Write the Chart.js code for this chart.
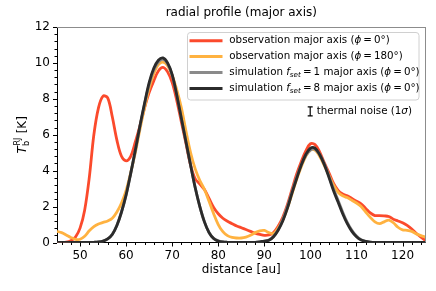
<!DOCTYPE html>
<html>
<head>
<meta charset="utf-8">
<script src="https://cdn.jsdelivr.net/npm/chart.js@4.4.1/dist/chart.umd.min.js"></script>
<style>
  body { margin: 0; background: #fff; }
  #marco { width: 436px; height: 291px; }
</style>
</head>
<body>
<div id="marco"><canvas id="perfil"></canvas></div>
<script>
// distancia en au (eje x)
const distancia = [45,46,47,48,49,50,51,52,53,54,55,56,57,58,59,60,61,62,63,64,65,66,67,68,69,70,
  71,72,73,74,75,76,77,78,79,80,81,82,83,84,85,86,87,88,89,90,91,92,93,94,95,96,97,98,99,100,
  101,102,103,104,105,106,107,108,109,110,111,112,113,114,115,116,117,118,119,120,121,122,123,124,125];

// observación, eje mayor, phi = 0
const obsPhi0 = [0,0,0.02,0.1,0.3,0.8,1.8,3.6,6.0,7.5,8.15,8.05,7.0,5.7,4.8,4.55,4.8,5.6,6.5,7.5,8.35,
  9.0,9.55,9.75,9.5,8.9,7.9,6.7,5.5,4.3,3.55,3.25,2.95,2.45,1.95,1.6,1.35,1.18,1.05,0.92,0.82,0.72,
  0.62,0.52,0.45,0.4,0.42,0.55,0.9,1.4,2.1,2.95,3.8,4.5,5.1,5.5,5.45,5.05,4.45,3.9,3.3,2.9,2.7,2.6,
  2.45,2.3,2.15,1.9,1.65,1.5,1.5,1.48,1.45,1.3,1.2,1.1,0.95,0.75,0.5,0.3,0.1];

// observación, eje mayor, phi = 180
const obsPhi180 = [0.62,0.55,0.42,0.28,0.18,0.18,0.35,0.65,0.88,1.03,1.12,1.2,1.35,1.7,2.2,2.9,3.9,5.0,
  6.3,7.5,8.6,9.4,9.9,10.05,9.85,9.3,8.5,7.5,6.2,5.0,4.1,3.45,2.95,2.3,1.6,1.0,0.6,0.38,0.28,0.25,
  0.25,0.3,0.4,0.55,0.65,0.67,0.55,0.5,0.8,1.25,1.9,2.7,3.5,4.2,4.8,5.15,5.15,4.8,4.3,3.75,3.2,2.8,
  2.6,2.5,2.35,2.2,2.0,1.7,1.4,1.15,1.05,1.15,1.25,1.1,0.85,0.7,0.68,0.62,0.48,0.38,0.3];

// simulación f_set = 1
const simF1 = [0,0,0,0,0,0,0,0,0.01,0.03,0.08,0.2,0.46,0.96,1.7,2.65,3.85,5.1,6.45,7.7,8.8,9.6,10.05,
  10.2,9.95,9.3,8.2,6.9,5.6,4.3,3.05,2.0,1.15,0.56,0.23,0.09,0.03,0.01,0,0,0,0,0,0,0.03,0.08,0.14,
  0.35,0.72,1.28,2.0,2.82,3.62,4.32,4.85,5.15,5.2,4.9,4.4,3.72,3.0,2.35,1.7,1.12,0.68,0.36,0.16,
  0.07,0.02,0,0,0,0,0,0,0,0,0,0,0,0];

// simulación f_set = 8
const simF8 = [0,0,0,0,0,0,0,0,0.01,0.03,0.08,0.2,0.45,0.95,1.7,2.65,3.85,5.15,6.5,7.75,8.9,9.7,10.15,
  10.28,10.0,9.35,8.2,6.9,5.6,4.3,3.05,2.0,1.15,0.55,0.22,0.08,0.03,0.01,0,0,0,0,0,0,0.03,0.08,0.12,
  0.32,0.68,1.2,1.9,2.75,3.55,4.3,4.9,5.25,5.25,4.9,4.35,3.65,2.9,2.25,1.6,1.05,0.62,0.32,0.14,
  0.06,0.02,0,0,0,0,0,0,0,0,0,0,0,0];

const xTicks = [50,60,70,80,90,100,110,120];
const yTicks = [0,2,4,6,8,10,12];

const FUENTE = "'DejaVu Sans', sans-serif";
const colores = { rojo: "#fb4a2c", naranja: "#ffb240", gris: "#8a8a8a", negro: "#2b2b2b" };

function puntos(vals) {
  return vals.map((v, i) => ({ x: distancia[i], y: v }));
}

// dibuja trozos de texto seguidos (normal, cursiva, subíndice)
function trozos(ctx, x, y, partes) {
  for (const p of partes) {
    ctx.font = (p.italic ? "italic " : "") + p.size + "px " + FUENTE;
    ctx.fillText(p.t, x, y + (p.dy || 0));
    x += ctx.measureText(p.t).width;
  }
  return x;
}

const extras = {
  id: "extras",
  afterDatasetsDraw(chart) {
    const { ctx, chartArea: a, scales: { x, y } } = chart;
    ctx.save();
    // bordes superior y derecho en gris
    ctx.strokeStyle = "#8c8c8c";
    ctx.lineWidth = 1;
    ctx.beginPath();
    ctx.moveTo(a.left, Math.round(a.top) + 0.5);
    ctx.lineTo(a.right, Math.round(a.top) + 0.5);
    ctx.moveTo(Math.round(a.right) - 0.5, a.top);
    ctx.lineTo(Math.round(a.right) - 0.5, a.bottom);
    ctx.stroke();

    // marcas de los ejes (mayores y menores)
    ctx.strokeStyle = "#000";
    ctx.beginPath();
    for (let v = 46; v <= 124; v += 2) {
      const px = Math.round(x.getPixelForValue(v)) + 0.5;
      const largo = xTicks.includes(v) ? 4 : 2.5;
      ctx.moveTo(px, a.bottom);
      ctx.lineTo(px, a.bottom + largo);
    }
    for (let k = 0; k <= 30; k++) {
      const py = Math.round(y.getPixelForValue(k * 0.4)) + 0.5;
      const largo = k % 5 === 0 ? 4 : 2.5;
      ctx.moveTo(a.left, py);
      ctx.lineTo(a.left - largo, py);
    }
    ctx.stroke();
    ctx.restore();
  },
  afterDraw(chart) {
    const { ctx, chartArea: a } = chart;
    const cx = (a.left + a.right) / 2;
    ctx.save();
    ctx.fillStyle = "#000";
    ctx.textBaseline = "middle";

    // título
    ctx.textAlign = "center";
    ctx.font = "12px " + FUENTE;
    ctx.fillText("radial profile (major axis)", cx, 13);
    // título eje x
    ctx.fillText("distance [au]", cx, 270);

    // título eje y: T_b^RJ [K]
    ctx.save();
    ctx.translate(23, (a.top + a.bottom) / 2);
    ctx.rotate(-Math.PI / 2);
    ctx.textAlign = "left";
    ctx.font = "italic 12px " + FUENTE;
    const wT = ctx.measureText("T").width;
    ctx.font = "8px " + FUENTE;
    const wSup = ctx.measureText("RJ").width;
    ctx.font = "12px " + FUENTE;
    const wK = ctx.measureText(" [K]").width;
    let x0 = -(wT + wSup + 1 + wK) / 2;
    ctx.font = "italic 12px " + FUENTE;
    ctx.fillText("T", x0, 0);
    x0 += wT;
    ctx.font = "8px " + FUENTE;
    ctx.fillText("b", x0, 3.5);
    ctx.fillText("RJ", x0 + 0.5, -5);
    x0 += wSup + 1;
    ctx.font = "12px " + FUENTE;
    ctx.fillText(" [K]", x0, 0);
    ctx.restore();

    // leyenda
    ctx.textAlign = "left";
    ctx.fillStyle = "rgba(255,255,255,0.85)";
    ctx.strokeStyle = "#d0d0d0";
    ctx.lineWidth = 1;
    ctx.beginPath();
    ctx.roundRect(187.5, 32.5, 231.5, 67.5, 3);
    ctx.fill();
    ctx.stroke();

    const T = 10.3;
    const filas = [
      { color: colores.rojo, partes: [
        { t: "observation major axis (", size: T }, { t: "ϕ", size: T, italic: true }, { t: "\u2009=\u20090°)", size: T }] },
      { color: colores.naranja, partes: [
        { t: "observation major axis (", size: T }, { t: "ϕ", size: T, italic: true }, { t: "\u2009=\u2009180°)", size: T }] },
      { color: colores.gris, partes: [
        { t: "simulation ", size: T }, { t: "f", size: T, italic: true }, { t: "set", size: 7.2, italic: true, dy: 2.5 },
        { t: "\u2009=\u20091 major axis (", size: T }, { t: "ϕ", size: T, italic: true }, { t: "\u2009=\u20090°)", size: T }] },
      { color: colores.negro, partes: [
        { t: "simulation ", size: T }, { t: "f", size: T, italic: true }, { t: "set", size: 7.2, italic: true, dy: 2.5 },
        { t: "\u2009=\u20098 major axis (", size: T }, { t: "ϕ", size: T, italic: true }, { t: "\u2009=\u20090°)", size: T }] }
    ];
    filas.forEach((f, i) => {
      const yy = 40.7 + i * 15.9;
      ctx.strokeStyle = f.color;
      ctx.lineWidth = 3;
      ctx.beginPath();
      ctx.moveTo(189.5, yy);
      ctx.lineTo(222.5, yy);
      ctx.stroke();
      ctx.fillStyle = "#000";
      trozos(ctx, 229.3, yy, f.partes);
    });

    // ruido térmico (1 sigma)
    ctx.strokeStyle = "#000";
    ctx.lineWidth = 1.2;
    ctx.beginPath();
    ctx.moveTo(310.2, 106.8); ctx.lineTo(310.2, 115.8);
    ctx.moveTo(307.7, 106.8); ctx.lineTo(312.7, 106.8);
    ctx.moveTo(307.7, 115.8); ctx.lineTo(312.7, 115.8);
    ctx.stroke();
    trozos(ctx, 316.7, 111.3, [
      { t: "thermal noise (1", size: T }, { t: "σ", size: T, italic: true }, { t: ")", size: T }]);
    ctx.restore();
  }
};

const serie = (label, vals, color, orden) => ({
  label,
  data: puntos(vals),
  borderColor: color,
  borderWidth: 2.8,
  pointRadius: 0,
  tension: 0.35,
  fill: false,
  order: orden
});

new Chart(document.getElementById("perfil"), {
  type: "line",
  data: {
    datasets: [
      serie("observation major axis (phi=0)", obsPhi0, colores.rojo, 3),
      serie("observation major axis (phi=180)", obsPhi180, colores.naranja, 2),
      serie("simulation f_set=1 major axis (phi=0)", simF1, colores.gris, 1),
      serie("simulation f_set=8 major axis (phi=0)", simF8, colores.negro, 0)
    ]
  },
  options: {
    responsive: true,
    maintainAspectRatio: false,
    animation: false,
    devicePixelRatio: 1,
    layout: { padding: { left: 0, top: 27, right: 10.4, bottom: 0 } },
    plugins: { legend: { display: false }, tooltip: { enabled: false }, title: { display: false } },
    scales: {
      x: {
        type: "linear",
        min: 45,
        max: 125,
        afterBuildTicks: s => { s.ticks = xTicks.map(v => ({ value: v })); },
        afterFit: s => { s.height = 48.5; },
        grid: { display: false, drawTicks: true, tickLength: 4 },
        border: { display: true, color: "#000", width: 1 },
        ticks: { color: "#000", font: { family: FUENTE, size: 12 }, padding: 2, maxRotation: 0, autoSkip: false }
      },
      y: {
        min: 0,
        max: 12,
        afterBuildTicks: s => { s.ticks = yTicks.map(v => ({ value: v })); },
        afterFit: s => { s.width = 57; },
        grid: { display: false, drawTicks: true, tickLength: 4 },
        border: { display: true, color: "#000", width: 1 },
        ticks: { color: "#000", font: { family: FUENTE, size: 12 }, padding: 3, autoSkip: false }
      }
    }
  },
  plugins: [extras]
});
</script>
</body>
</html>
